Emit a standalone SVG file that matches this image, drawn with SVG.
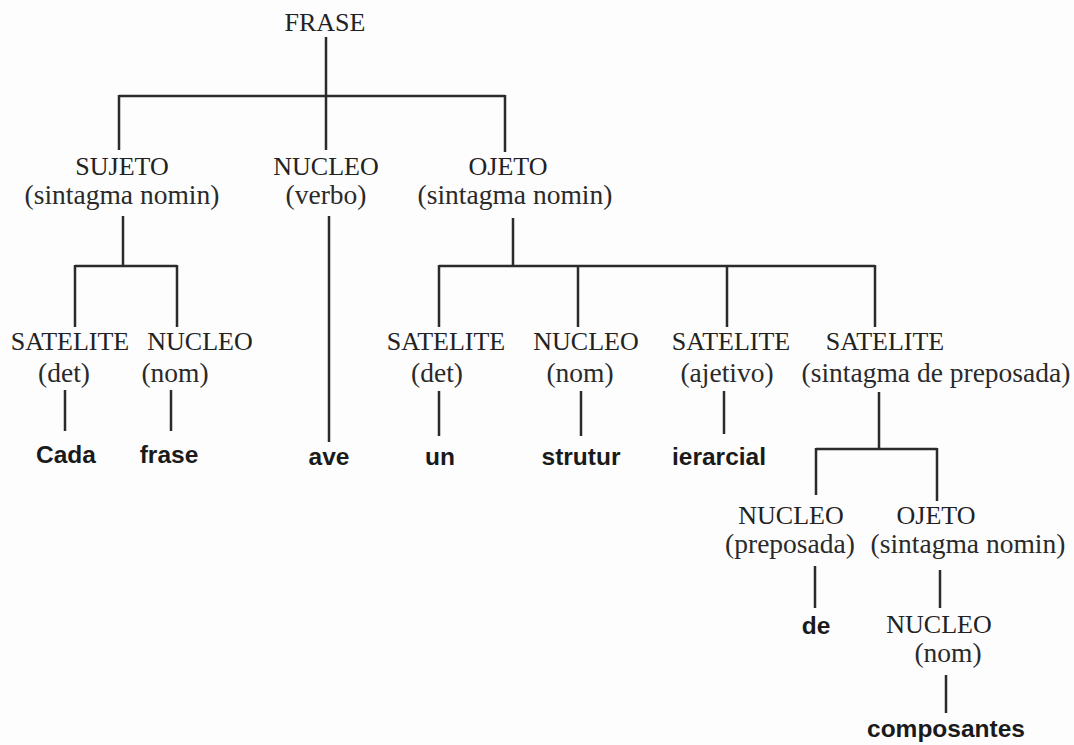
<svg xmlns="http://www.w3.org/2000/svg" width="1074" height="745" viewBox="0 0 1074 745">
<style>
.t{font-family:"Liberation Serif","Times New Roman",serif;font-size:26px;fill:#222;text-anchor:middle}
.s{font-family:"Liberation Serif","Times New Roman",serif;font-size:27.5px;fill:#2a2a2a;text-anchor:middle}
.w{font-family:"Liberation Sans",Arial,sans-serif;font-size:24.5px;font-weight:bold;fill:#1a1a1a;text-anchor:middle}
.c{fill:none;stroke:#2b2b2b;stroke-width:2.5;stroke-linecap:butt}
</style>
<rect width="1074" height="745" fill="#fdfdfd"/>
<g id="connectors" class="c">
<path d="M326,37V96M119,96H505M119,95V150M326,96V150M505,95V152"/>
<path d="M123,216V266M75,266H177M75,265V327M177,265V327"/>
<path d="M329,216V442"/>
<path d="M513,218V266M439,266H875M439,265V327M578,266V327M727,266V327M875,265V327"/>
<path d="M65,390V431M171,390V431M439,391V436M581,391V436M724,391V434"/>
<path d="M879,392V449M816,449H937M816,448V495M937,448V501"/>
<path d="M815,566V608M940,570V608M946,675V713"/>
</g>
<g id="frase"><text class="t" x="325" y="31">FRASE</text></g>
<g id="sujeto"><text class="t" x="122" y="175">SUJETO</text><text class="s" x="122" y="204">(sintagma nomin)</text></g>
<g id="nucleo-verbo"><text class="t" x="326" y="175">NUCLEO</text><text class="s" x="326" y="204">(verbo)</text></g>
<g id="ojeto"><text class="t" x="508" y="175">OJETO</text><text class="s" x="515" y="204">(sintagma nomin)</text></g>
<g id="satelite-det-1"><text class="t" x="70" y="350">SATELITE</text><text class="s" x="64" y="382">(det)</text></g>
<g id="nucleo-nom-1"><text class="t" x="200" y="350">NUCLEO</text><text class="s" x="175" y="382">(nom)</text></g>
<g id="satelite-det-2"><text class="t" x="446" y="350">SATELITE</text><text class="s" x="437" y="382">(det)</text></g>
<g id="nucleo-nom-2"><text class="t" x="586" y="350">NUCLEO</text><text class="s" x="580" y="382">(nom)</text></g>
<g id="satelite-ajetivo"><text class="t" x="731" y="350">SATELITE</text><text class="s" x="727" y="382">(ajetivo)</text></g>
<g id="satelite-prep"><text class="t" x="885" y="350">SATELITE</text><text class="s" x="936" y="382">(sintagma de preposada)</text></g>
<g id="nucleo-preposada"><text class="t" x="791" y="524">NUCLEO</text><text class="s" x="790" y="553">(preposada)</text></g>
<g id="ojeto-2"><text class="t" x="936" y="524">OJETO</text><text class="s" x="968" y="553">(sintagma nomin)</text></g>
<g id="nucleo-nom-3"><text class="t" x="939" y="633">NUCLEO</text><text class="s" x="948" y="662">(nom)</text></g>
<g id="leaf-cada"><text class="w" x="66" y="463">Cada</text></g>
<g id="leaf-frase"><text class="w" x="169" y="463">frase</text></g>
<g id="leaf-ave"><text class="w" x="329" y="465">ave</text></g>
<g id="leaf-un"><text class="w" x="440" y="465">un</text></g>
<g id="leaf-strutur"><text class="w" x="581" y="465">strutur</text></g>
<g id="leaf-ierarcial"><text class="w" x="719" y="465">ierarcial</text></g>
<g id="leaf-de"><text class="w" x="816" y="634">de</text></g>
<g id="leaf-composantes"><text class="w" x="946" y="737">composantes</text></g>
</svg>
